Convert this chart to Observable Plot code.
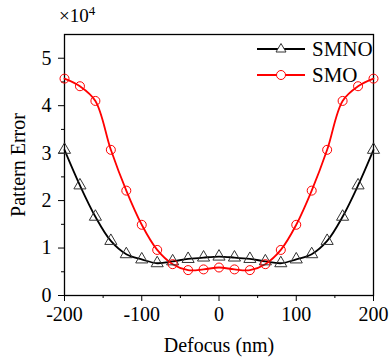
<!DOCTYPE html>
<html><head><meta charset="utf-8">
<script src="https://cdn.jsdelivr.net/npm/d3@7"></script>
<script src="https://cdn.jsdelivr.net/npm/@observablehq/plot@0.6"></script>
<style>
body{margin:0;background:#fff;}
#wrap{position:relative;width:390px;height:357px;font-family:"Liberation Serif","Times New Roman",serif;}
#chart svg text{font-family:"Liberation Serif","Times New Roman",serif !important;font-size:20px !important;}
#exp{position:absolute;left:59px;top:3px;font-size:19px;font-family:"Liberation Serif",serif;}
#exp sup{font-size:13px;}
#legend{position:absolute;left:255px;top:36px;font-size:21px;font-family:"Liberation Serif",serif;}
.row{display:flex;align-items:center;height:26px;}
.row span{margin-left:5px;}
</style>
</head><body>
<div id="wrap"><div id="chart"></div>
<div id="exp">×10<sup>4</sup></div>
<div id="legend">
<div class="row"><svg width="52" height="20"><line x1="2" y1="10" x2="50" y2="10" stroke="#000" stroke-width="1.8"/><path d="M26,4.5 L31,13 L21,13 Z" fill="white" stroke="#333" stroke-width="1"/></svg><span>SMNO</span></div>
<div class="row"><svg width="52" height="20"><line x1="2" y1="10" x2="50" y2="10" stroke="#ff0000" stroke-width="1.8"/><circle cx="26" cy="10" r="4.5" fill="white" stroke="#ff0000" stroke-width="1"/></svg><span>SMO</span></div>
</div>
</div>
<script>
const defocus = [-200,-180,-160,-140,-120,-100,-80,-60,-40,-20,0,20,40,60,80,100,120,140,160,180,200];
const smno = [3.07,2.32,1.66,1.15,0.87,0.76,0.68,0.72,0.77,0.80,0.82,0.80,0.77,0.72,0.68,0.76,0.87,1.15,1.66,2.32,3.07];
const smo  = [4.57,4.41,4.10,3.07,2.21,1.49,0.96,0.66,0.535,0.55,0.59,0.55,0.535,0.66,0.96,1.49,2.21,3.07,4.10,4.41,4.57];
const xTicks = [-200,-100,0,100,200];
const xMinor = [-150,-50,50,150];
const yTicks = [0,1,2,3,4,5];
const yMinor = [0.5,1.5,2.5,3.5,4.5];

const dSMNO = defocus.map((x,i)=>({x, y:smno[i]}));
const dSMO = defocus.map((x,i)=>({x, y:smo[i]}));

const chart = Plot.plot({
  width:390, height:357,
  marginLeft:64, marginRight:17, marginTop:34, marginBottom:62,
  style:{fontFamily:'"Liberation Serif","Times New Roman",serif', fontSize:"20px", color:"#000", background:"#fff"},
  x:{domain:[-200,200]},
  y:{domain:[0,5.5]},
  marks:[
    Plot.frame({stroke:"#000", strokeWidth:1.3}),
    Plot.axisX({ticks:xTicks, tickSize:6, tickPadding:5, tickFormat:d=>String(d), label:"Defocus (nm)", labelAnchor:"center", labelArrow:"none", labelOffset:56}),
    Plot.axisX({ticks:xMinor, tickSize:3, tickFormat:()=>"", label:null}),
    Plot.axisY({ticks:yTicks, tickSize:6, tickPadding:7, tickFormat:d=>String(d), label:"Pattern Error", labelAnchor:"center", labelArrow:"none", labelOffset:54}),
    Plot.axisY({ticks:yMinor, tickSize:3, tickFormat:()=>"", label:null}),
    Plot.line(dSMNO, {x:"x", y:"y", stroke:"#000", strokeWidth:1.8, curve:"catmull-rom"}),
    Plot.line(dSMO, {x:"x", y:"y", stroke:"#ff0000", strokeWidth:1.8, curve:"catmull-rom"}),
    Plot.dot(dSMNO, {x:"x", y:"y", symbol:"triangle", r:4.5, stroke:"#333", strokeWidth:1, fill:"none"}),
    Plot.dot(dSMO, {x:"x", y:"y", symbol:"circle", r:4.5, stroke:"#ff0000", strokeWidth:1, fill:"none"})
  ]
});
document.getElementById("chart").appendChild(chart);
</script>
</body></html>
